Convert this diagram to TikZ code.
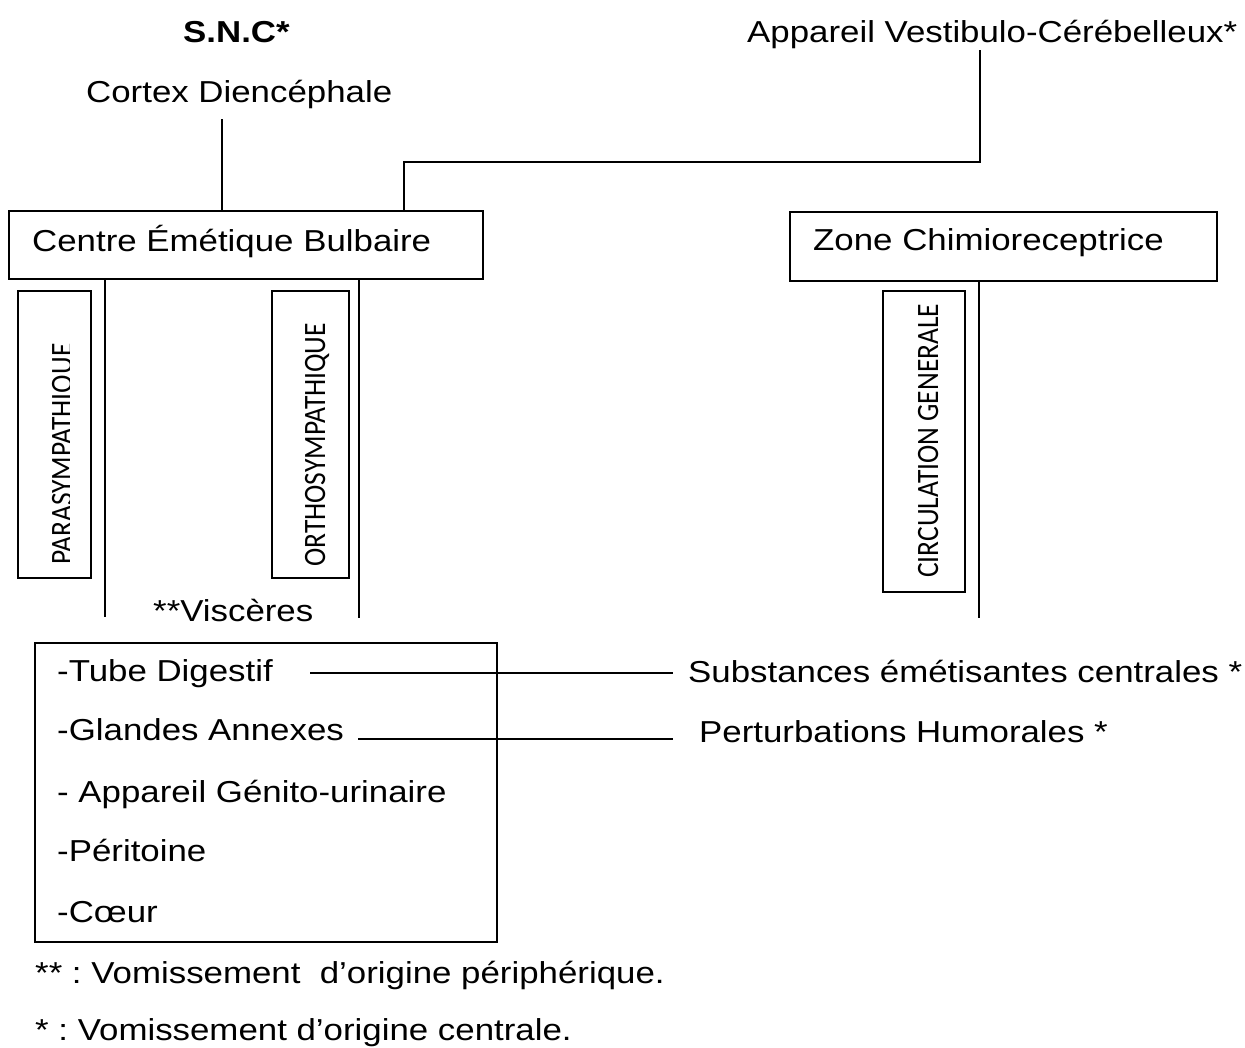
\documentclass[tikz,border=0pt]{standalone}
\usepackage{fontspec}
\usepackage{graphicx}
\setmainfont{Liberation Sans}[FakeStretch=1.15]
\newfontfamily\vfont{Carlito}
\frenchspacing
\begin{document}
\begin{tikzpicture}[x=1pt, y=-1pt,
  mainfont/.style={font=\fontsize{30.3}{36}\selectfont},
  lbl/.style={mainfont, inner sep=0pt, anchor=base west},
  vlbl/.style={inner sep=0pt, anchor=base west, rotate=90,
               font=\vfont\fontsize{27.5}{33}\selectfont},
  frame/.style={draw, rectangle, inner sep=0pt, line width=1.8pt},
  link/.style={line width=1.8pt}]
\useasboundingbox (0,0) rectangle (1245,1047);

% --- top labels
\node[lbl, font=\bfseries\fontsize{30.3}{36}\selectfont] (snc) at (183,42) {S.N.C*};
\node[lbl] (cortex) at (86,102) {Cortex Diencéphale};
\node[lbl] (avc) at (747,42) {Appareil Vestibulo-Cérébelleux*};

% --- central boxes
\node[frame, minimum width=474pt, minimum height=68pt] (ceb) at (246,245) {};
\node[lbl] (cebt) at (32,251) {Centre Émétique Bulbaire};
\node[frame, minimum width=427pt, minimum height=69pt] (zc) at (1003.5,246.5) {};
\node[lbl] (zct) at (813,250) {Zone Chimioreceptrice};

% --- vertical pathway boxes
\node[frame, minimum width=73pt, minimum height=287pt] (para) at (54.5,434.5) {};
\node[frame, minimum width=77pt, minimum height=287pt] (ortho) at (310.5,434.5) {};
\node[frame, minimum width=82pt, minimum height=301pt] (circ) at (924,441.5) {};
\begin{scope}
  \clip (0,280) rectangle (69.5,600);
  \node[vlbl] (parat) at (72,565) {\scalebox{1}[1.13]{PARASYMPATHIQUE}};
\end{scope}
\node[vlbl] (orthot) at (325,567) {\scalebox{1}[1.13]{ORTHOSYMPATHIQUE}};
\node[vlbl] (circt) at (938,578) {\scalebox{1}[1.13]{CIRCULATION GENERALE}};

% --- connectors to the emetic centre
\coordinate (cortexfoot) at (222,119);
\draw[link] (cortexfoot) -- (cortexfoot |- ceb.north);
\coordinate (avcfoot) at (980,50);
\coordinate (avcbend) at (980,162);
\coordinate (vtap) at (404,162);
\draw[link] (avcfoot) -- (avcbend) -- (vtap) -- (vtap |- ceb.north);

% --- descending lines
\coordinate (pl) at (105,617);
\draw[link] (pl |- ceb.south) -- (pl);
\coordinate (ol) at (359,618);
\draw[link] (ol |- ceb.south) -- (ol);
\coordinate (zl) at (979,618);
\draw[link] (zl |- zc.south) -- (zl);

% --- viscera
\node[lbl] (visc) at (153,621) {**Viscères};
\node[frame, minimum width=462pt, minimum height=299pt] (vbox) at (266,792.5) {};
\node[lbl] (tube) at (57,681) {-Tube Digestif};
\node[lbl] (gland) at (57,740) {-Glandes Annexes};
\node[lbl] (genit) at (57,802) {- Appareil Génito-urinaire};
\node[lbl] (perit) at (57,861) {-Péritoine};
\node[lbl] (coeur) at (57,922) {-Cœur};

% --- central emetic factors
\node[lbl] (subst) at (688,682) {Substances émétisantes centrales *};
\node[lbl] (pert) at (699,742) {Perturbations Humorales *};
\coordinate (tubeend) at (310,673);
\coordinate (substart) at (673,673);
\draw[link] (tubeend) -- (substart);
\coordinate (glandend) at (358,739);
\coordinate (pertstart) at (673,739);
\draw[link] (glandend) -- (pertstart);

% --- footnotes
\node[lbl] (note2) at (35,983) {** : Vomissement~ d’origine périphérique.};
\node[lbl] (note1) at (35,1040) {* : Vomissement d’origine centrale.};
\end{tikzpicture}
\end{document}
